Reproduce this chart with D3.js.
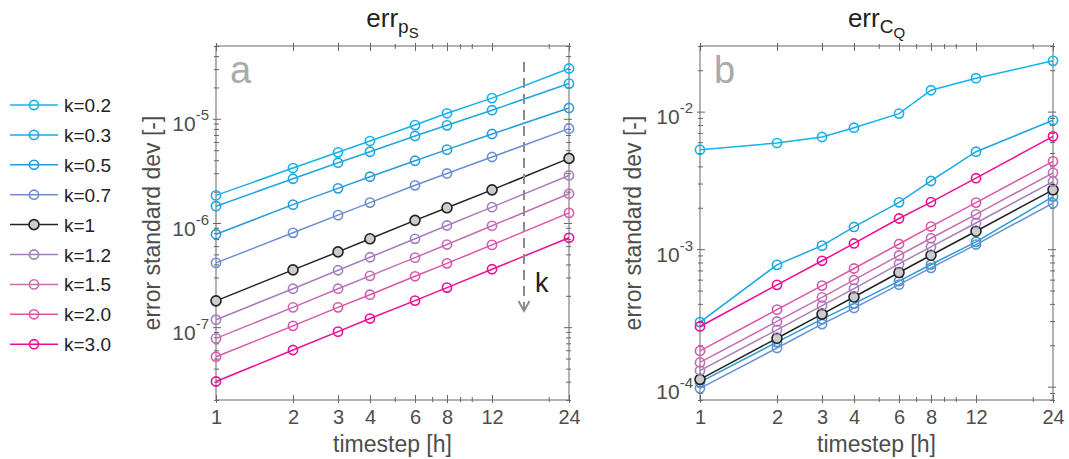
<!DOCTYPE html>
<meta charset="utf-8">
<head>
	<title>err standard dev vs timestep</title>
	<script src="https://cdnjs.cloudflare.com/ajax/libs/d3/7.8.5/d3.min.js" charset="utf-8"></script>
</head>

<style type="text/css">
	body {
		margin: 0;
		background: #fff;
		font-family: "Liberation Sans", Arial, Helvetica, sans-serif;
	}
	.axis text { fill: #4d4d4d; }
	.axis line { stroke: #666; }
	.axis path { display: none; }
</style>

<body>
<script>
	// ---- data ----
	var timesteps = [1, 2, 3, 4, 6, 8, 12, 24];
	var kLabels = ["k=0.2", "k=0.3", "k=0.5", "k=0.7", "k=1", "k=1.2", "k=1.5", "k=2.0", "k=3.0"];
	var lineColors = ["#14b2ea", "#1ca7e1", "#2a9bd8", "#6a8fd0", "#222222", "#a67dbd", "#c46db3", "#dc55a8", "#f00c95"];

	// panel a: err p_S, one row per k
	var errPS = [
		[1.84e-6, 3.37e-6, 4.77e-6, 6.12e-6, 8.71e-6, 1.13e-5, 1.58e-5, 3.04e-5],
		[1.45e-6, 2.66e-6, 3.79e-6, 4.83e-6, 6.84e-6, 8.66e-6, 1.21e-5, 2.18e-5],
		[7.8e-7, 1.50e-6, 2.15e-6, 2.78e-6, 3.96e-6, 5.06e-6, 7.15e-6, 1.27e-5],
		[4.14e-7, 8.05e-7, 1.19e-6, 1.57e-6, 2.30e-6, 2.99e-6, 4.30e-6, 8.05e-6],
		[1.79e-7, 3.55e-7, 5.28e-7, 7.05e-7, 1.06e-6, 1.40e-6, 2.08e-6, 4.17e-6],
		[1.18e-7, 2.34e-7, 3.52e-7, 4.69e-7, 7.05e-7, 9.46e-7, 1.42e-6, 2.86e-6],
		[7.8e-8, 1.55e-7, 2.34e-7, 3.11e-7, 4.65e-7, 6.21e-7, 9.40e-7, 1.91e-6],
		[5.2e-8, 1.03e-7, 1.55e-7, 2.05e-7, 3.08e-7, 4.10e-7, 6.16e-7, 1.25e-6],
		[3.01e-8, 6.04e-8, 9.06e-8, 1.21e-7, 1.80e-7, 2.40e-7, 3.60e-7, 7.21e-7]
	];

	// panel b: err C_Q, one row per k
	var errCQ = [
		[5.28e-3, 5.91e-3, 6.54e-3, 7.64e-3, 9.67e-3, 1.43e-2, 1.75e-2, 2.34e-2],
		[2.95e-4, 7.69e-4, 1.06e-3, 1.45e-3, 2.19e-3, 3.13e-3, 5.11e-3, 8.65e-3],
		[1.08e-4, 2.11e-4, 3.10e-4, 4.02e-4, 5.85e-4, 7.73e-4, 1.13e-3, 2.41e-3],
		[9.72e-5, 1.91e-4, 2.85e-4, 3.73e-4, 5.52e-4, 7.31e-4, 1.08e-3, 2.16e-3],
		[1.13e-4, 2.25e-4, 3.37e-4, 4.49e-4, 6.76e-4, 9.03e-4, 1.35e-3, 2.70e-3],
		[1.31e-4, 2.59e-4, 3.88e-4, 5.16e-4, 7.81e-4, 1.04e-3, 1.55e-3, 3.10e-3],
		[1.50e-4, 2.98e-4, 4.46e-4, 5.97e-4, 9.00e-4, 1.20e-3, 1.79e-3, 3.59e-3],
		[1.82e-4, 3.63e-4, 5.43e-4, 7.23e-4, 1.09e-3, 1.46e-3, 2.18e-3, 4.35e-3],
		[2.74e-4, 5.50e-4, 8.23e-4, 1.10e-3, 1.67e-3, 2.20e-3, 3.28e-3, 6.61e-3]
	];

	var xMinorTicks = [5, 7, 9, 10, 20];
	var yMajorA = [1e-7, 1e-6, 1e-5];
	var yMajorB = [1e-4, 1e-3, 1e-2];

	// ---- layout ----
	var W = 1069, H = 459;
	var plotW = 353, plotH = 354;

	var svg = d3.select("body").append("svg")
		.attr("width", W)
		.attr("height", H);

	function logMinors(domain) {
		var out = [];
		var lo = Math.floor(Math.log10(domain[0])), hi = Math.ceil(Math.log10(domain[1]));
		for (var e = lo; e <= hi; e++) {
			for (var m = 2; m <= 9; m++) {
				var v = m * Math.pow(10, e);
				if (v >= domain[0] * 0.999 && v <= domain[1] * 1.001) out.push(v);
			}
		}
		return out;
	}

	function drawPanel(opts) {
		var g = svg.append("g")
			.attr("transform", "translate(" + opts.left + "," + opts.top + ")");

		var x = d3.scaleLog().domain([1, 24]).range([0, plotW]);
		var y = d3.scaleLog().domain(opts.yDomain).range([plotH, 0]);
		var yMinor = logMinors(opts.yDomain);

		// bottom axis (outward ticks + labels)
		g.append("g").attr("class", "axis")
			.attr("transform", "translate(0," + plotH + ")")
			.call(d3.axisBottom(x).tickValues(timesteps).tickSizeInner(3).tickSizeOuter(0).tickPadding(6)
				.tickFormat(d3.format("d")))
			.selectAll("text")
			.style("font-size", "20px")
			.attr("dy", "0.74em");

		// inward + outward ticks on all four sides, plus minor ticks
		var sides = [
			{ax: d3.axisBottom, t: "translate(0," + plotH + ")", s: x, major: timesteps, minor: xMinorTicks},
			{ax: d3.axisTop, t: "translate(0,0)", s: x, major: timesteps, minor: xMinorTicks},
			{ax: d3.axisLeft, t: "translate(0,0)", s: y, major: opts.yMajor, minor: yMinor},
			{ax: d3.axisRight, t: "translate(" + plotW + ",0)", s: y, major: opts.yMajor, minor: yMinor}
		];
		sides.forEach(function(sd) {
			g.append("g").attr("class", "axis").attr("transform", sd.t)
				.call(sd.ax(sd.s).tickValues(sd.major).tickSize(-5).tickFormat(""));
			g.append("g").attr("class", "axis").attr("transform", sd.t)
				.call(sd.ax(sd.s).tickValues(sd.major).tickSize(3).tickFormat(""));
			g.append("g").attr("class", "axis").attr("transform", sd.t)
				.call(sd.ax(sd.s).tickValues(sd.minor).tickSize(-3).tickFormat(""));
			g.append("g").attr("class", "axis").attr("transform", sd.t)
				.call(sd.ax(sd.s).tickValues(sd.minor).tickSize(2).tickFormat(""));
		});

		// left axis labels 10^n
		var yAx = g.append("g").attr("class", "axis")
			.call(d3.axisLeft(y).tickValues(opts.yMajor).tickSize(0).tickPadding(7).tickFormat(""));
		yAx.selectAll(".tick text")
			.attr("dy", null)
			.attr("y", 12)
			.style("font-size", "21px")
			.each(function(d) {
				var t = d3.select(this);
				t.text("10");
				t.append("tspan")
					.attr("dy", -11)
					.style("font-size", "15px")
					.text(String(Math.round(Math.log10(d))));
			});

		// frame
		g.append("rect")
			.attr("width", plotW).attr("height", plotH)
			.attr("fill", "none").attr("stroke", "#666").attr("stroke-width", 1);

		// series lines
		var line = d3.line()
			.x(function(d, i) { return x(timesteps[i]); })
			.y(function(d) { return y(d); });

		opts.data.forEach(function(row, k) {
			g.append("path")
				.datum(row)
				.attr("fill", "none")
				.attr("stroke", lineColors[k])
				.attr("stroke-width", 1.5)
				.attr("d", line);
			g.selectAll(".m" + k)
				.data(row)
			 .enter().append("circle")
				.attr("class", "m" + k)
				.attr("cx", function(d, i) { return x(timesteps[i]); })
				.attr("cy", function(d) { return y(d); })
				.attr("r", k === 4 ? 5 : 4.6)
				.attr("fill", k === 4 ? "#cccccc" : "none")
				.attr("stroke", lineColors[k])
				.attr("stroke-width", 1.6);
		});

		// panel letter
		g.append("text")
			.attr("x", 14).attr("y", 37)
			.style("font-size", "38px")
			.style("fill", "#aaaaaa")
			.text(opts.letter);

		// title
		var title = g.append("text")
			.attr("x", plotW / 2).attr("y", -19)
			.attr("text-anchor", "middle")
			.style("font-size", "26px")
			.style("fill", "#222");
		title.append("tspan").text("err");
		title.append("tspan").attr("dy", 6).style("font-size", "19px").text(opts.sub1);
		title.append("tspan").attr("dy", 5).style("font-size", "15px").text(opts.sub2);

		// axis labels
		g.append("text")
			.attr("x", plotW / 2).attr("y", plotH + 52)
			.attr("text-anchor", "middle")
			.style("font-size", "23px")
			.style("fill", "#4d4d4d")
			.text("timestep [h]");

		g.append("text")
			.attr("transform", "translate(" + opts.ylabX + "," + (plotH / 2) + ") rotate(-90)")
			.attr("text-anchor", "middle")
			.style("font-size", "23px")
			.style("fill", "#4d4d4d")
			.text("error standard dev [-]");

		return {g: g, x: x, y: y};
	}

	var pa = drawPanel({left: 216, top: 46, yDomain: [2e-8, 5e-5], yMajor: yMajorA, data: errPS,
		letter: "a", sub1: "p", sub2: "S", ylabX: -56});
	var pb = drawPanel({left: 700, top: 46, yDomain: [8e-5, 3e-2], yMajor: yMajorB, data: errCQ,
		letter: "b", sub1: "C", sub2: "Q", ylabX: -59});

	// dashed arrow showing direction of increasing k in panel a
	var arrowX = 308;
	pa.g.append("line")
		.attr("x1", arrowX).attr("x2", arrowX)
		.attr("y1", 16).attr("y2", 264)
		.attr("stroke", "#8c8c8c").attr("stroke-width", 2)
		.attr("stroke-dasharray", "10,6");
	pa.g.append("path")
		.attr("d", "M" + (arrowX - 5.5) + ",255 L" + arrowX + ",265 L" + (arrowX + 5.5) + ",255")
		.attr("fill", "none")
		.attr("stroke", "#8c8c8c").attr("stroke-width", 2);
	pa.g.append("text")
		.attr("x", arrowX + 11).attr("y", 246)
		.style("font-size", "27px")
		.style("fill", "#222")
		.text("k");

	// legend
	var legend = svg.append("g").attr("transform", "translate(10,105)");
	kLabels.forEach(function(lbl, k) {
		var row = legend.append("g").attr("transform", "translate(0," + (k * 29.9) + ")");
		row.append("line")
			.attr("x1", 0).attr("x2", 48)
			.attr("stroke", lineColors[k]).attr("stroke-width", 1.5);
		row.append("circle")
			.attr("cx", 24).attr("r", k === 4 ? 5 : 4.6)
			.attr("fill", k === 4 ? "#cccccc" : "none")
			.attr("stroke", lineColors[k]).attr("stroke-width", 1.6);
		row.append("text")
			.attr("x", 54).attr("y", 7)
			.style("font-size", "19px")
			.style("fill", "#222")
			.text(lbl);
	});
</script>
</body>
